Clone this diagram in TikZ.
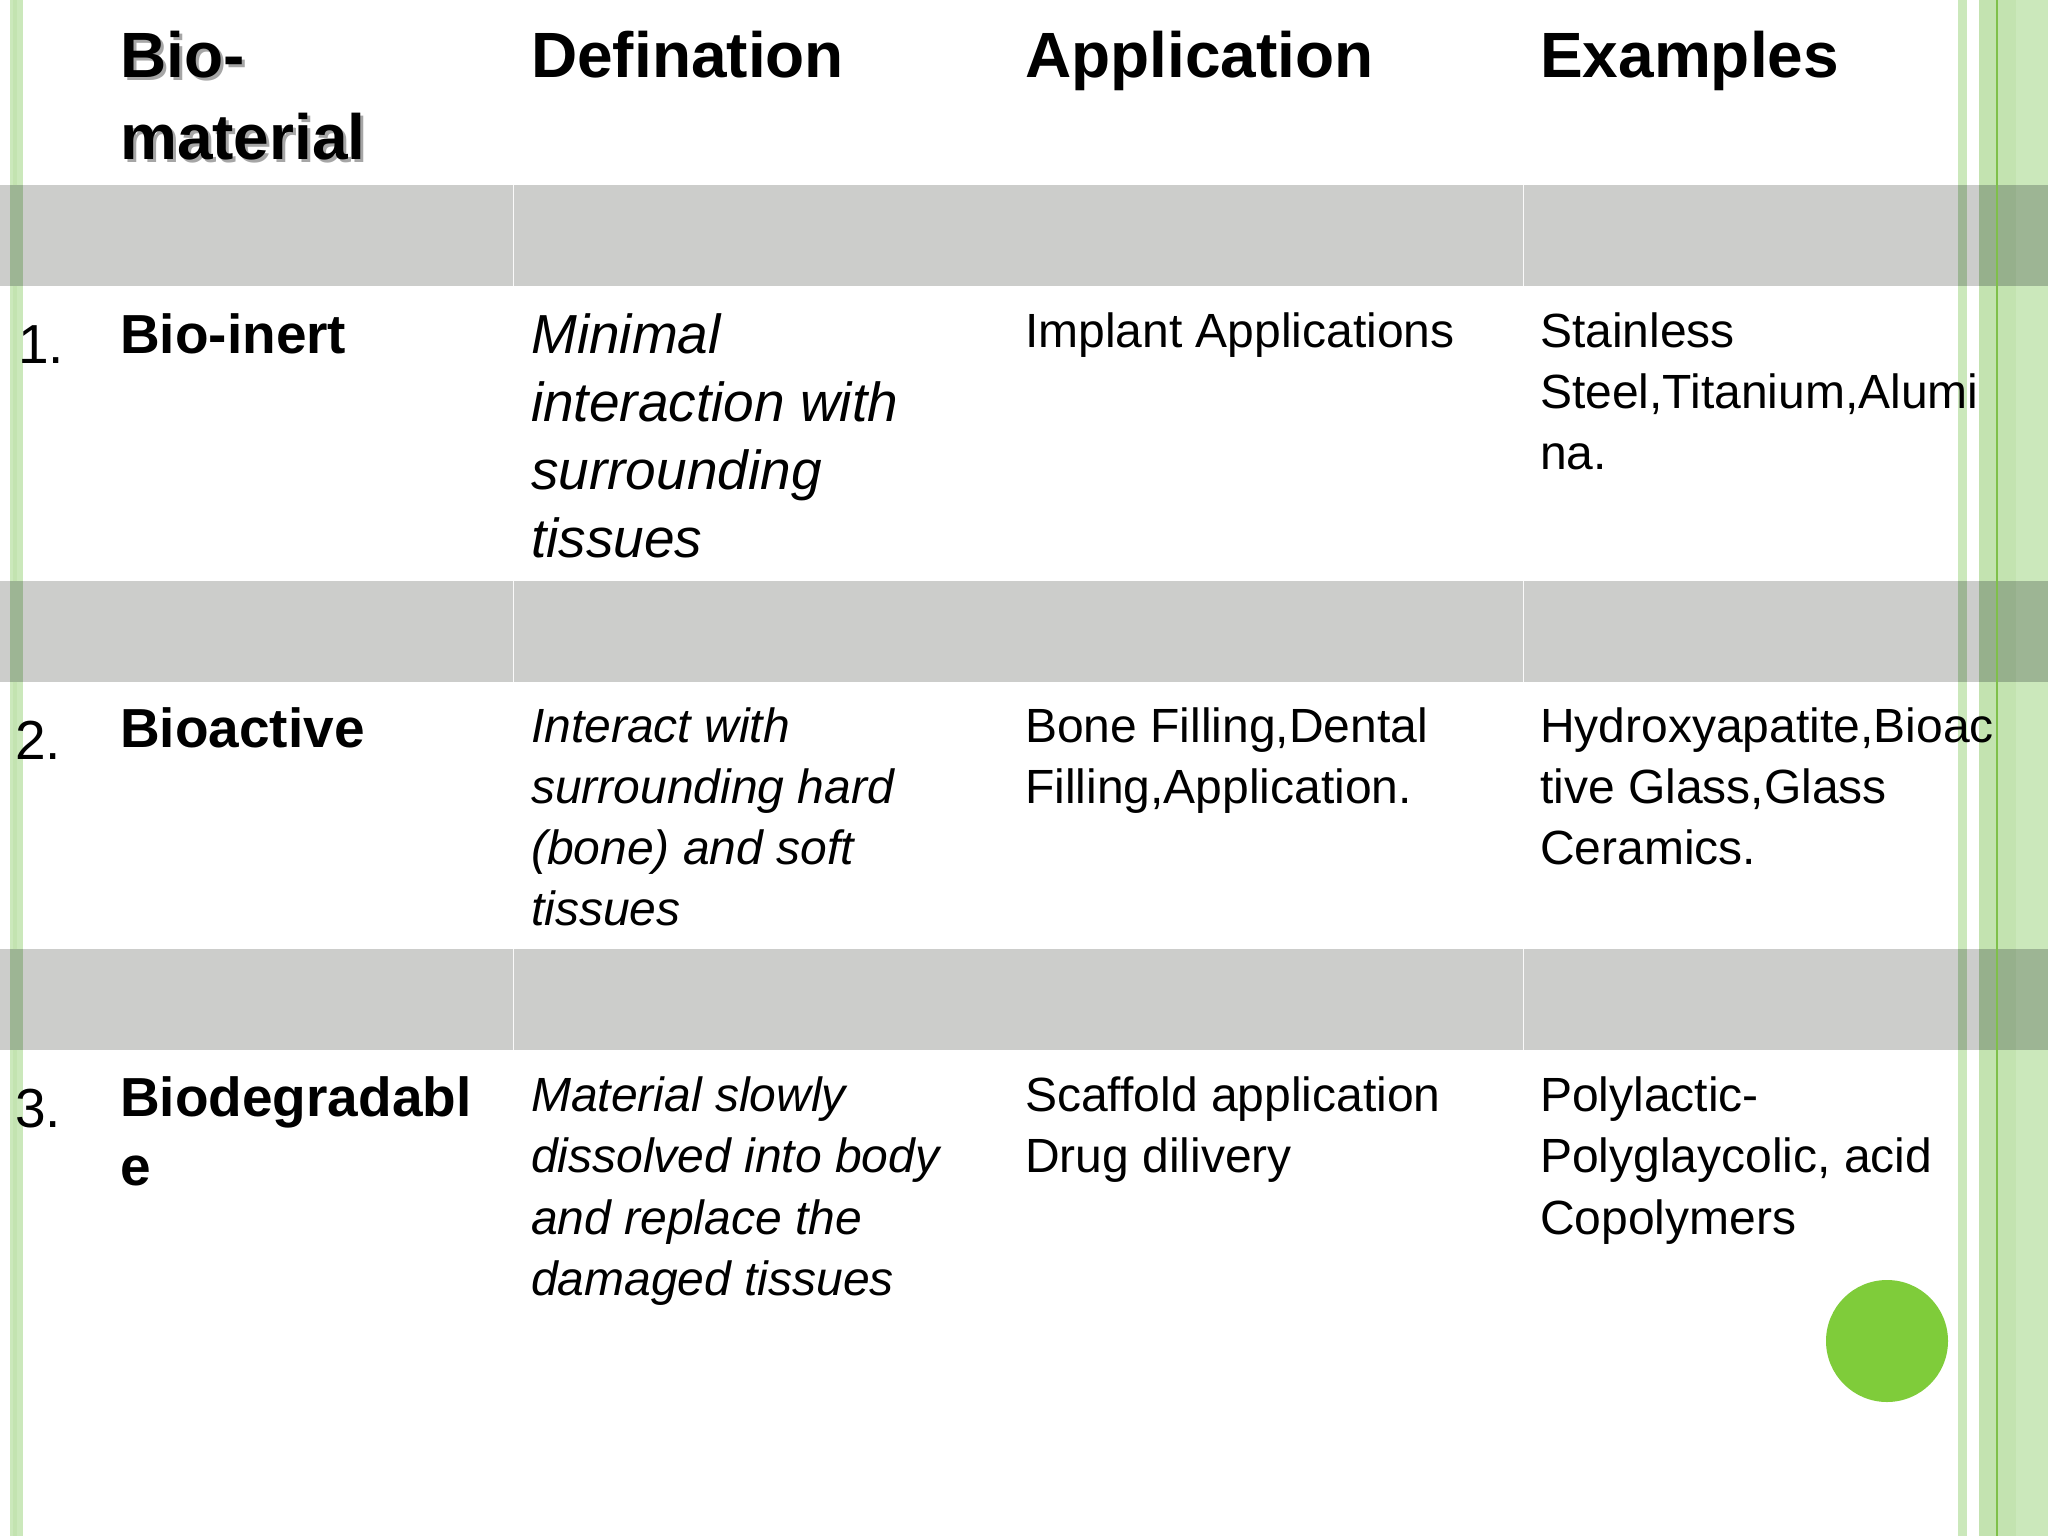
\documentclass[tikz,border=0pt]{standalone}
\usepackage{fontspec}
\setmainfont{Liberation Sans}
\definecolor{band}{HTML}{CCCDCB}
\definecolor{lg}{HTML}{CBE8BB}
\definecolor{lg2}{HTML}{C3E3B0}
\definecolor{dg}{HTML}{9DB594}
\definecolor{dg2}{HTML}{96B08C}
\definecolor{gl}{HTML}{7FC04A}
\definecolor{dot}{HTML}{7FCC3A}
\begin{document}
\begin{tikzpicture}[x=1pt,y=-1pt,
  t/.style={anchor=base west,inner sep=0pt,text=black},
  big/.style={t,font=\fontsize{55}{66}\selectfont},
  bigb/.style={t,font=\fontsize{55}{66}\selectfont\bfseries},
  bigi/.style={t,font=\fontsize{55}{66}\selectfont\itshape},
  med/.style={t,font=\fontsize{48}{58}\selectfont},
  medi/.style={t,font=\fontsize{48}{58}\selectfont\itshape},
  hd/.style={t,font=\fontsize{64}{76}\selectfont\bfseries}]
\useasboundingbox (0,0) rectangle (2048,1536);
\fill[white] (0,0) rectangle (2048,1536);
% bands
\foreach \a/\b in {185/286,581/682,949/1050}{
  \fill[band] (0,\a) rectangle (2048,\b);
  \draw[white!90!band,line width=1pt] (513,\a) -- (513,\b);
  \draw[white!90!band,line width=1pt] (1523,\a) -- (1523,\b);
}
% stripes
\fill[lg] (10,0) rectangle (23,1536);
\fill[lg2] (13,0) rectangle (17,1536);
\fill[lg] (1958,0) rectangle (1967,1536);
\fill[lg2] (1979,0) rectangle (2016,1536);
\fill[lg] (2016,0) rectangle (2048,1536);
\foreach \a/\b in {185/286,581/682,949/1050}{
  \fill[dg] (10,\a) rectangle (23,\b);
  \fill[dg] (1958,\a) rectangle (1967,\b);
  \fill[dg2] (1979,\a) rectangle (2016,\b);
  \fill[dg] (2016,\a) rectangle (2048,\b);
}
\draw[gl,line width=2pt] (1997,0) -- (1997,1536);
% header
\node[hd,text=black!35] (h1s) at (123,81) {Bio-};
\node[hd,text=black!35] (h2s) at (123,163) {material};
\node[hd] (h1) at (120,78) {Bio-};
\node[hd] (h2) at (120,160) {material};
\node[hd] (h3) at (531,78) {Defination};
\node[hd] (h4) at (1025,78) {Application};
\node[hd] (h5) at (1540,78) {Examples};
% row 1
\node[big] (n1) at (18,363) {1.};
\node[bigb] (r1a) at (120,353) {Bio-inert};
\node[bigi] (r1b1) at (531,353) {Minimal};
\node[bigi] (r1b2) at (531,421) {interaction with};
\node[bigi] (r1b3) at (531,489) {surrounding};
\node[bigi] (r1b4) at (531,557) {tissues};
\node[med] (r1c) at (1025,347) {Implant Applications};
\node[med] (r1d1) at (1540,347) {Stainless};
\node[med] (r1d2) at (1540,408) {Steel,Titanium,Alumi};
\node[med] (r1d3) at (1540,469) {na.};
% row 2
\node[big] (n2) at (15,759) {2.};
\node[bigb] (r2a) at (120,747) {Bioactive};
\node[medi] (r2b1) at (531,742) {Interact with};
\node[medi] (r2b2) at (531,803) {surrounding hard};
\node[medi] (r2b3) at (531,864) {(bone) and soft};
\node[medi] (r2b4) at (531,925) {tissues};
\node[med] (r2c1) at (1025,742) {Bone Filling,Dental};
\node[med] (r2c2) at (1025,803) {Filling,Application.};
\node[med] (r2d1) at (1540,742) {Hydroxyapatite,Bioac};
\node[med] (r2d2) at (1540,803) {tive Glass,Glass};
\node[med] (r2d3) at (1540,864) {Ceramics.};
% row 3
\node[big] (n3) at (15,1127) {3.};
\node[bigb] (r3a1) at (120,1116) {Biodegradabl};
\node[bigb] (r3a2) at (120,1185) {e};
\node[medi] (r3b1) at (531,1111) {Material slowly};
\node[medi] (r3b2) at (531,1172) {dissolved into body};
\node[medi] (r3b3) at (531,1234) {and replace the};
\node[medi] (r3b4) at (531,1295) {damaged tissues};
\node[med] (r3c1) at (1025,1111) {Scaffold application};
\node[med] (r3c2) at (1025,1172) {Drug dilivery};
\node[med] (r3d1) at (1540,1111) {Polylactic-};
\node[med] (r3d2) at (1540,1172) {Polyglaycolic, acid};
\node[med] (r3d3) at (1540,1234) {Copolymers};
% dot
\fill[dot] (1887,1341) circle (61);
\end{tikzpicture}
\end{document}
